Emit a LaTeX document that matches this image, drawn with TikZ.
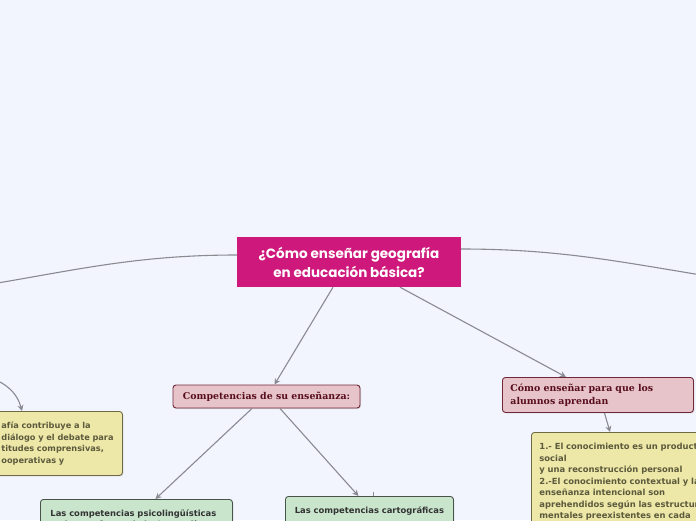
\documentclass[tikz,border=0pt]{standalone}
\usepackage{fontspec}
\setmainfont{DejaVu Sans}
\newfontfamily\titlefont{Poppins}
\newfontfamily\serifbold{DejaVu Serif}
\usetikzlibrary{arrows.meta,shadows}

\definecolor{bgcol}{RGB}{242,245,254}
\definecolor{maincol}{RGB}{206,24,124}
\definecolor{rosefill}{RGB}{231,196,201}
\definecolor{roseline}{RGB}{112,40,56}
\definecolor{rosetext}{RGB}{88,14,30}
\definecolor{ylwfill}{RGB}{237,231,168}
\definecolor{ylwline}{RGB}{110,106,70}
\definecolor{ylwtext}{RGB}{92,90,60}
\definecolor{grnfill}{RGB}{201,230,205}
\definecolor{grnline}{RGB}{72,84,74}
\definecolor{linkcol}{RGB}{138,138,144}

\tikzset{
  mainbox/.style={fill=maincol, text=white, align=center, inner sep=0pt,
    font=\titlefont\bfseries\fontsize{13.5}{19}\selectfont},
  rosebox/.style={draw=roseline, line width=0.9pt, fill=rosefill, rounded corners=3pt,
    text=rosetext, font=\serifbold\bfseries\fontsize{9.4}{13}\selectfont,
    drop shadow={opacity=0.25, shadow xshift=1pt, shadow yshift=-1pt}},
  ylwbox/.style={draw=ylwline, line width=0.9pt, fill=ylwfill, rounded corners=3pt,
    text=ylwtext, align=left, anchor=north west, inner xsep=8pt, inner ysep=5pt,
    font=\bfseries\fontsize{8.4}{11.5}\selectfont,
    drop shadow={opacity=0.25, shadow xshift=1pt, shadow yshift=-1pt}},
  grnbox/.style={draw=grnline, line width=0.9pt, fill=grnfill, rounded corners=3pt,
    text=black!80, align=left, anchor=north west,
    font=\bfseries\fontsize{8.4}{11.5}\selectfont,
    drop shadow={opacity=0.25, shadow xshift=1pt, shadow yshift=-1pt}},
  link/.style={draw=linkcol, line width=1.1pt},
  arrow/.style={link, -{Stealth[length=6pt,width=6pt]}}
}

\begin{document}
\begin{tikzpicture}[x=1pt,y=-1pt]

\fill[bgcol] (0,0) rectangle (696,520);
\clip (0,0) rectangle (696,520);

\node[mainbox, minimum width=224pt, minimum height=50pt] (main) at (349,262)
  {¿Cómo enseñar geografía\\ en educación básica?};

\node[rosebox, minimum width=187pt, minimum height=23pt] (comp) at (266.5,396.5)
  {Competencias de su enseñanza:};

\node[rosebox, anchor=north west, align=left, text width=175pt, inner xsep=8pt,
  inner ysep=4pt, minimum height=35pt] (como) at (502,377)
  {Cómo enseñar para que los\\ alumnos aprendan};

\node[ylwbox, text width=116pt, inner xsep=5pt, minimum height=64pt,
  font=\bfseries\fontsize{8.2}{11.5}\selectfont] (ylwl) at (-4,411)
  {afía contribuye a la\\ diálogo y el debate para\\ titudes comprensivas,\\ ooperativas y};

\node[ylwbox, text width=180pt, minimum height=110pt] (ylwr) at (531,432)
  {1.- El conocimiento es un producto\\ social\\ y una reconstrucción personal\\
   2.-El conocimiento contextual y la\\ enseñanza intencional son\\
   aprehendidos según las estructuras\\ mentales preexistentes en cada\\ persona};

\node[grnbox, text width=172pt, inner xsep=10pt, inner ysep=7pt, minimum height=40pt] (psico) at (40,499)
  {Las competencias psicolingüísticas\\ en la enseñanza de la Geografía};

\node[grnbox, align=center, text width=152pt, inner xsep=8pt, inner ysep=7pt, minimum height=30pt] (carto) at (285,496)
  {Las competencias cartográficas};

\coordinate (leftend) at (-60,292);
\coordinate (rightend) at (760,284);
\coordinate (lefttop) at (-40,368);

\draw[link] ([yshift=7pt]main.west) to[out=180,in=8] (leftend);
\draw[link] ([yshift=13pt]main.east) to[out=0,in=172] (rightend);
\draw[arrow] (lefttop) to[out=-15,in=105] ([xshift=26pt]ylwl.north west);

\draw[arrow] ([xshift=-16pt]main.south) -- ([xshift=8pt]comp.north);
\draw[arrow] ([xshift=51pt]main.south) -- ([xshift=-32pt]como.north);

\draw[arrow] ([xshift=-14.5pt]comp.south) -- ([xshift=19pt]psico.north);
\draw[arrow] ([xshift=13.5pt]comp.south) -- ([xshift=-11pt]carto.north);
\draw[link] ([xshift=4pt]carto.north) -- ++(0,-4);

\draw[arrow] ([xshift=6.5pt]como.south) -- ([xshift=79pt]ylwr.north west);

\end{tikzpicture}
\end{document}
